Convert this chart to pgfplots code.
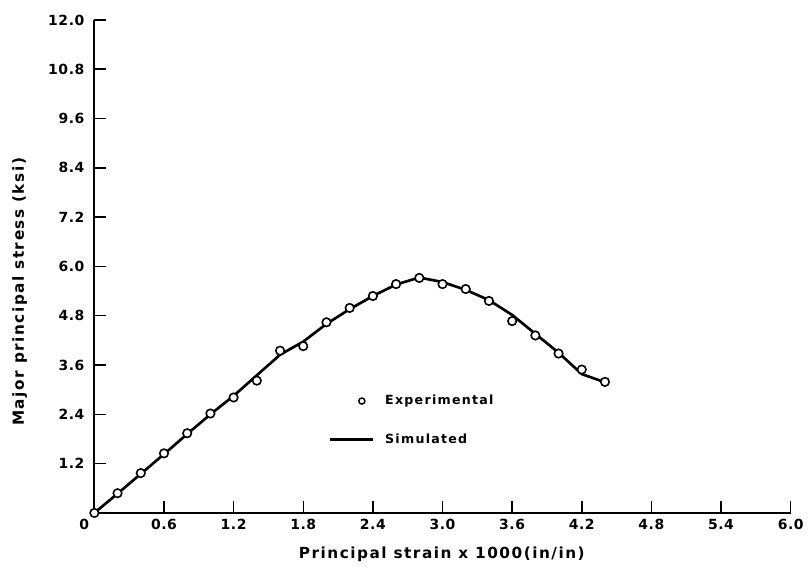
\documentclass[border=0pt]{standalone}
\usepackage{pgfplots}
\pgfplotsset{compat=1.18}
\usepackage{fontspec}
\setmainfont{DejaVu Sans}
\newfontfamily\lblfont[LetterSpace=10]{DejaVu Sans}
\newfontfamily\tickfont[LetterSpace=4]{DejaVu Sans}
\newfontfamily\legfont[LetterSpace=10]{DejaVu Sans}
\begin{document}
\begin{tikzpicture}
\begin{axis}[
  scale only axis,
  width=524pt, height=371pt,
  xmin=0, xmax=6.0, ymin=0, ymax=12.0,
  axis lines*=left,
  axis line style={line width=1.4pt},
  tick style={line width=1.1pt, black},
  tick align=inside,
  major tick length=9pt,
  xtick={0,0.6,1.2,1.8,2.4,3.0,3.6,4.2,4.8,5.4,6.0},
  xticklabels={\makebox[0pt][r]{0\hspace{4pt}},0.6,1.2,1.8,2.4,3.0,3.6,4.2,4.8,5.4,6.0},
  ytick={1.2,2.4,3.6,4.8,6.0,7.2,8.4,9.6,10.8,12.0},
  yticklabels={1.2,2.4,3.6,4.8,6.0,7.2,8.4,9.6,10.8,12.0},
  ticklabel style={font=\tickfont\fontsize{10.5}{12}\selectfont\bfseries},
  /pgf/number format/assume math mode=true,
  xticklabel style={yshift=-1pt},
  yticklabel style={xshift=-4pt},
  xlabel={\textbf{Principal strain x 1000(in/in)}},
  ylabel={\textbf{Major principal stress (ksi)}},
  label style={font=\lblfont\fontsize{11.5}{13}\selectfont},
  xlabel style={at={(axis description cs:0.5,0)}, anchor=north, yshift=-22pt},
  ylabel style={at={(axis description cs:0,0.45)}, anchor=south, yshift=47pt},
  clip=false,
  reverse legend,
  legend cell align=left,
  legend style={draw=none, fill=none, at={(axis cs:1.98,3.0)}, anchor=north west,
     font=\legfont\fontsize{9.5}{11}\selectfont\bfseries, row sep=16pt},
]
\addplot[line width=2pt, black, line join=round,
  legend image code/.code={\draw[line width=2pt] (0cm,0cm) -- (1.15cm,0cm);}]
  coordinates {
  (0,0) (0.2,0.47) (0.4,0.95) (0.6,1.43) (0.8,1.92) (1.0,2.40) (1.2,2.85) (1.4,3.35)
  (1.6,3.85) (1.8,4.17) (2.0,4.60) (2.2,4.96) (2.4,5.28) (2.6,5.56) (2.8,5.73)
  (3.0,5.62) (3.2,5.43) (3.4,5.18) (3.6,4.82) (3.8,4.36) (4.0,3.90) (4.2,3.38) (4.4,3.18)
  };
\addlegendentry{\hspace*{6pt}Simulated}
\addplot[only marks, mark=*, mark size=3.2pt, mark options={fill=white, draw=black, line width=1.2pt},
  legend image code/.code={\draw[mark=*, mark size=2.3pt, mark options={fill=white, draw=black, line width=1.1pt}] plot coordinates {(0.85cm,0cm)};}]
  coordinates {
  (0,0) (0.2,0.48) (0.4,0.97) (0.6,1.45) (0.8,1.94) (1.0,2.42) (1.2,2.81) (1.4,3.22)
  (1.6,3.95) (1.8,4.06) (2.0,4.64) (2.2,4.99) (2.4,5.28) (2.6,5.57) (2.8,5.72)
  (3.0,5.57) (3.2,5.45) (3.4,5.16) (3.6,4.67) (3.8,4.32) (4.0,3.88) (4.2,3.49) (4.4,3.19)
  };
\addlegendentry{\hspace*{6pt}Experimental}
\end{axis}
\path[use as bounding box] ([xshift=-71pt,yshift=-44.25pt]current axis.south west)
  rectangle ([xshift=10.5pt,yshift=15pt]current axis.north east);
\end{tikzpicture}
\end{document}
